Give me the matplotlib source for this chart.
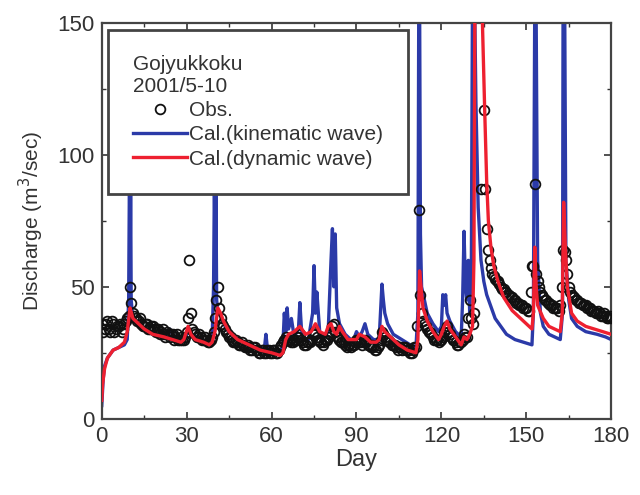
import numpy as np
import matplotlib.pyplot as plt
from matplotlib.ticker import MultipleLocator

nan = np.nan  # readings hidden under the model curves in the source figure

# observed discharge (daily readings)
obs_day = list(range(0, 181))
obs_q = [
    36, 34, 37, 33, 36, 34, 35, 33, 36, 38,
    50, 40, 38, 37, 36, 35, 36, 34, 35, 33,
    34, 33, 32, 33, 31, 32, 31, 30, 31, 30,
    33, 60, 34, 32, 31, 31, 30, 30, 29, 31,
    38, 50, 38, 35, 33, 31, 30, 29, 29, 28,
    28, 27, 27, 26, 27, 26, 25, 26, 25, 26,
    25, 26, 25, 27, 29, 31, 30, 29, 30, 31,
    32, 29, 28, 29, 30, 33, 31, 29, 28, 30,
    31, 33, 36, 31, 30, 29, 28, 28, 27, 28,
    30, 29, 28, 30, 28, 27, 27, 26, 28, 33,
    31, 30, 29, 28, 27, 27, 26, 27, 26, 25,
    26, 27, 79, 40, 36, 34, 33, 31, 30, 29,
    30, 33, 35, 32, 30, 29, 28, 29, 32, 31,
    45, 36, nan, nan, 87, 117, 72, 60, 55, 53,
    52, 50, 49, 48, 47, 46, 45, 44, 43, 42,
    42, 41, 58, 89, 52, 48, 46, 45, 44, 43,
    42, 42, 43, 64, 60, 50, 47, 46, 45, 44,
    43, 43, 42, 41, 41, 40, 40, 39, 39, 38,
    38,
]

# observed discharge at mid-day readings (day + 0.5)
obs_half_day = [d + 0.5 for d in range(0, 180)]
obs_half_q = [
    33, 36, 34, 37, 33, 35, 36, 34, 37, 39,
    44, 39, 37, 38, 35, 36, 34, 35, 34, 34,
    32, 34, 31, 32, 32, 30, 32, 30, 30, 31,
    38, 40, 33, 31, 32, 30, 31, 29, 30, 33,
    45, 42, 36, 34, 32, 31, 29, 30, 28, 29,
    27, 28, 26, 27, 26, 25, 26, 25, 26, 25,
    26, 25, 26, 28, 30, 30, 30, 29, 30, 31,
    30, 28, 29, 29, 32, 32, 30, 29, 29, 30,
    32, 35, 33, 31, 29, 29, 27, 28, 28, 29,
    30, 29, 29, 29, 28, 28, 26, 27, 30, 32,
    30, 29, 28, 28, 26, 27, 27, 26, 26, 25,
    27, 35, 47, 37, 35, 33, 32, 30, 30, 30,
    31, 34, 33, 31, 30, 28, 29, 30, 31, 38,
    38, 40, nan, nan, nan, 87, 64, 57, 54, 52,
    51, 49, 48, 47, 46, 45, 44, 43, 43, 42,
    41, 48, 58, 55, 50, 47, 45, 44, 43, 42,
    42, 41, 50, 63, 55, 48, 46, 45, 44, 44,
    43, 42, 42, 41, 40, 41, 39, 40, 38, 39,
]

# kinematic wave model
kin_day = [0, 0.5, 1, 2, 4, 6, 8, 9, 9.5, 9.8, 10.0, 10.2, 10.4, 10.8, 11.5,
           13, 16, 20, 23, 24, 25, 27, 29, 30.5, 32, 35, 38, 39, 39.5, 39.8,
           40.1, 40.3, 40.6, 41, 42, 44, 47, 50, 53, 56, 57.5, 58, 58.5, 60,
           63, 64, 64.5, 65, 65.5, 66, 67, 68, 69.5, 70, 70.5, 71, 73, 74.5,
           75, 75.5, 76, 77, 78, 80, 81, 81.5, 82, 82.5, 83, 84, 86, 88, 89,
           90, 91, 92, 93, 94, 96, 98, 99, 99.5, 100, 101, 103, 106, 109, 111,
           111.7, 112, 112.3, 112.6, 113, 114, 115, 117, 119, 120, 120.5, 121,
           121.5, 122, 123, 125, 127, 127.5, 128, 128.5, 129, 129.5, 130, 130.6,
           131, 131.6, 132.2, 133, 134, 135, 136, 137, 139, 141, 143, 146, 149,
           152, 152.5, 153, 153.5, 154, 155, 156, 158, 160, 162, 162.8, 163,
           163.6, 164, 165, 166, 168, 171, 175, 178, 180]
kin_q = [5, 15, 20, 23, 26, 27, 28, 30, 45, 95, 50, 90, 45, 40, 37,
         35, 33, 31, 31, 34, 32, 30, 30, 33, 32, 30, 29, 30, 50, 90,
         55, 92, 45, 40, 39, 34, 31, 29, 27, 26, 27, 32, 27, 25,
         25, 28, 40, 33, 42, 34, 38, 31, 34, 44, 35, 30, 30, 40,
         58, 40, 48, 33, 31, 33, 60, 72, 50, 70, 42, 36, 32, 30, 30,
         33, 31, 33, 36, 32, 30, 30, 51, 45, 40, 36, 32, 30, 28, 27,
         40, 155, 160, 70, 50, 45, 40, 36, 33, 35, 47, 43,
         47, 40, 37, 33, 31, 45, 71, 50, 45, 60, 40, 60,
         165, 170, 120, 80, 60, 52, 47, 44, 38, 35, 32, 30, 29,
         28, 40, 160, 150, 60, 40, 35, 32, 31, 30, 40, 160,
         150, 60, 45, 38, 35, 33, 32, 31, 30]

# dynamic wave model
dyn_day = [0, 0.3, 1, 2, 4, 6, 8, 9, 10, 10.5, 11, 13, 15, 18, 22, 25, 28, 29,
           30.5, 31.5, 33, 36, 38, 39, 40, 41, 42, 43, 45, 48, 52, 56, 60, 63,
           64, 65, 66, 68, 70, 72, 74, 75.5, 77, 79, 80, 81, 82, 83, 84, 85,
           87, 90, 91, 93, 95, 97, 98, 99, 100, 102, 105, 108, 111, 111.7,
           112.3, 112.8, 113.5, 115, 117, 119, 120, 121, 122, 123, 125, 127,
           128, 129, 130, 131, 131.5, 131.8, 132.2, 133.3, 134.5, 135.3, 136,
           136.6, 137.5, 138.5, 140, 142, 145, 148, 150, 152, 152.5, 153, 153.5,
           154, 156, 158, 160, 162, 162.7, 163.2, 163.8, 164.5, 166, 168, 171,
           174, 177, 180]
dyn_q = [7, 13, 19, 23, 26, 27, 29, 33, 42, 40, 38, 36, 34, 32, 31, 30, 29, 30,
         35, 32, 30, 29, 28, 29, 33, 42, 40, 37, 33, 30, 28, 26, 25, 24,
         25, 30, 32, 33, 35, 32, 33, 36, 33, 32, 35, 36, 33, 32, 35, 33,
         30, 30, 32, 31, 29, 29, 30, 35, 33, 31, 28, 26, 25, 30,
         56, 50, 42, 37, 33, 30, 32, 35, 37, 34, 31, 28,
         31, 30, 32, 35, 60, 150, 160, 160, 150, 117, 90,
         75, 65, 58, 52, 46, 41, 38, 36, 34, 40, 65, 50,
         43, 38, 35, 34, 33, 40, 82, 65, 50, 40, 37, 35,
         34, 33, 32]

plt.rcParams['font.family'] = ['Liberation Sans', 'DejaVu Sans']
txt = '#333333'

fig = plt.figure(figsize=(6.4, 4.95), dpi=100)
ax = fig.add_axes([0.159, 0.154, 0.796, 0.8])

ax.plot(kin_day, kin_q, color='#2b3aa8', lw=2.4, label='Cal.(kinematic wave)', zorder=2)
ax.plot(obs_day, obs_q, 'o', mfc='none', mec='#111111', ms=7, mew=1.3,
        label='Obs.', zorder=3)
ax.plot(obs_half_day, obs_half_q, 'o', mfc='none', mec='#111111', ms=7, mew=1.3,
        zorder=3)
ax.plot(dyn_day, dyn_q, color='#ee2030', lw=2.4, label='Cal.(dynamic wave)', zorder=4)

ax.set_xlim(0, 180)
ax.set_ylim(0, 150)
ax.xaxis.set_major_locator(MultipleLocator(30))
ax.xaxis.set_minor_locator(MultipleLocator(15))
ax.yaxis.set_major_locator(MultipleLocator(50))
ax.yaxis.set_minor_locator(MultipleLocator(25))
ax.tick_params(which='both', direction='in', top=True, right=True,
               labelsize=16, colors=txt)
ax.tick_params(which='major', length=5, width=1.2, pad=5)
ax.tick_params(which='minor', length=3, width=1.0)
for s in ax.spines.values():
    s.set_linewidth(1.6)
    s.set_color('#444444')

ax.set_xlabel('Day', fontsize=17, color=txt, labelpad=2)
ax.set_ylabel('Discharge (m$^3$/sec)', fontsize=15, color=txt, labelpad=8)

handles, labels = ax.get_legend_handles_labels()
order = [1, 0, 2]
leg = ax.legend([handles[i] for i in order], [labels[i] for i in order],
                title='Gojyukkoku\n2001/5-10', title_fontsize=15, fontsize=15,
                loc='upper left', bbox_to_anchor=(0.012, 0.982), borderaxespad=0,
                alignment='left', fancybox=False, framealpha=1,
                edgecolor='#444444', handlelength=2.6, handletextpad=0.1,
                labelspacing=0.25, borderpad=1.2)
leg.get_frame().set_linewidth(2.0)
leg.get_title().set_color(txt)
for t in leg.get_texts():
    t.set_color(txt)
leg.set_zorder(10)

fig.savefig('out.png', dpi=100)
